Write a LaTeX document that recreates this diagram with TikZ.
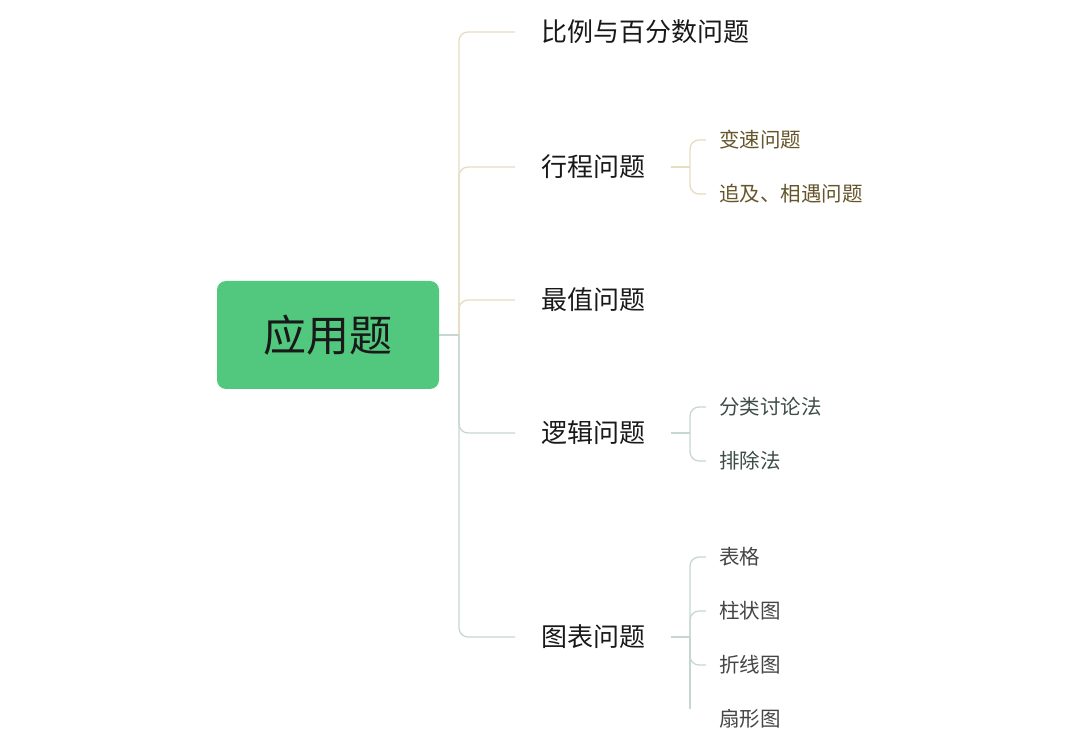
\documentclass[tikz,border=0pt]{standalone}
\usepackage{fontspec}
\setmainfont{Noto Sans CJK SC}
\usetikzlibrary{positioning,calc}
\definecolor{rootgreen}{HTML}{52C77E}
\definecolor{warmline}{HTML}{E6DCC2}
\definecolor{coolline}{HTML}{C6D7D0}
\definecolor{tripbrown}{HTML}{66552B}
\definecolor{logicgray}{HTML}{3E4E47}
\definecolor{chartgray}{HTML}{454545}

\begin{document}
\begin{tikzpicture}[
    x=1pt, y=-1pt,
    root/.style={rectangle, fill=rootgreen, rounded corners=9pt, minimum width=222pt,
                 minimum height=108pt, font=\fontsize{43}{50}\selectfont, text=black!90},
    topic/.style={anchor=west, inner sep=0pt, font=\fontsize{26}{30}\selectfont, text=black!90},
    leaf/.style={anchor=west, inner sep=0pt, font=\fontsize{20.5}{24}\selectfont},
    warm/.style={draw=warmline, line width=1.3pt, rounded corners=9pt},
    cool/.style={draw=coolline, line width=1.3pt, rounded corners=9pt}
]
    \useasboundingbox (0,0) rectangle (1080,751);

    \node[root] (app) at (328,335) {应用题};

    \node[topic] (ratio) at (541,32) {比例与百分数问题};
    \node[topic] (trip) at (541,167) {行程问题};
    \node[topic] (best) at (541,300) {最值问题};
    \node[topic] (logic) at (541,433) {逻辑问题};
    \node[topic] (chart) at (541,637) {图表问题};

    \node[leaf, text=tripbrown] (speed) at (719,140) {变速问题};
    \node[leaf, text=tripbrown] (meet) at (719,194) {追及、相遇问题};
    \node[leaf, text=logicgray] (sort) at (719,407) {分类讨论法};
    \node[leaf, text=logicgray] (except) at (719,461) {排除法};
    \node[leaf, text=chartgray] (table) at (719,557) {表格};
    \node[leaf, text=chartgray] (bar) at (719,611) {柱状图};
    \node[leaf, text=chartgray] (line) at (719,665) {折线图};
    \node[leaf, text=chartgray] (pie) at (719,719) {扇形图};

    % trunk
    \coordinate (trunk) at (459,335);
    \draw[cool, rounded corners=0pt] (app.east) -- (trunk);
    \draw[warm] (trunk) |- ([xshift=-26pt]ratio.west);
    \draw[warm] (trunk) |- ([xshift=-26pt]trip.west);
    \draw[warm] (trunk) |- ([xshift=-26pt]best.west);
    \draw[cool] (trunk) |- ([xshift=-26pt]logic.west);
    \draw[cool] (trunk) |- ([xshift=-26pt]chart.west);

    % sub branches
    \coordinate (tripfork) at (690,167);
    \draw[warm, rounded corners=0pt] ([xshift=26pt]trip.east) -- (tripfork);
    \draw[warm] (tripfork) |- ([xshift=-13pt]speed.west);
    \draw[warm] (tripfork) |- ([xshift=-13pt]meet.west);

    \coordinate (logicfork) at (690,433);
    \draw[cool, rounded corners=0pt] ([xshift=26pt]logic.east) -- (logicfork);
    \draw[cool] (logicfork) |- ([xshift=-13pt]sort.west);
    \draw[cool] (logicfork) |- ([xshift=-13pt]except.west);

    \coordinate (chartfork) at (690,637);
    \draw[cool, rounded corners=0pt] ([xshift=26pt]chart.east) -- (chartfork);
    \draw[cool] (chartfork) |- ([xshift=-13pt]table.west);
    \draw[cool] (chartfork) |- ([xshift=-13pt]bar.west);
    \draw[cool] (chartfork) |- ([xshift=-13pt]line.west);
    \draw[cool] (chartfork) -- (chartfork |- pie.north);
\end{tikzpicture}
\end{document}
